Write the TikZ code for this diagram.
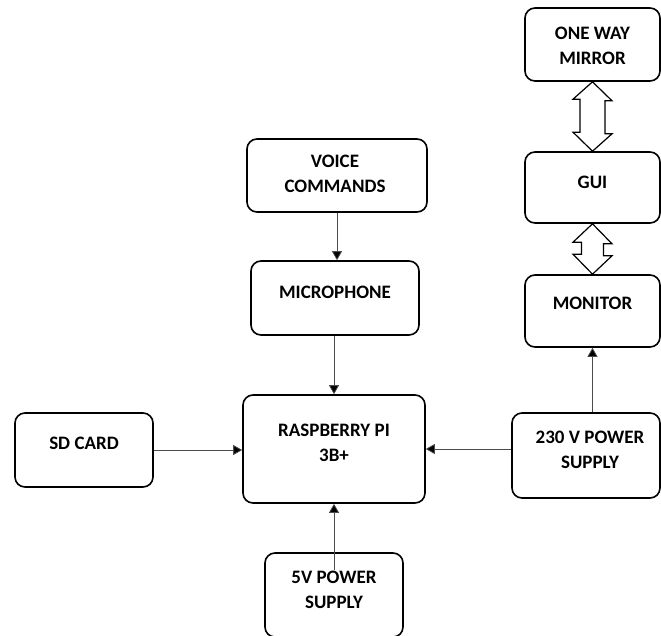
\documentclass[tikz,border=0pt]{standalone}
\usepackage{fontspec}
\setmainfont{Carlito}
\usetikzlibrary{arrows.meta,calc}
\begin{document}
\begin{tikzpicture}[x=1pt,y=-1pt,
  box/.style={draw=black,line width=1.6pt,rounded corners=10pt,inner sep=0pt,fill=white},
  lbl/.style={font=\fontsize{19}{25}\selectfont\bfseries,align=center,inner sep=0pt,text=black},
  conn/.style={draw=black!70,line width=0.8pt,-{Triangle[length=9pt,width=10pt,fill=black]}},
  hollow/.style={draw=black,line width=1.2pt,fill=white,line join=miter}]
\useasboundingbox (0,0) rectangle (661,635);
% boxes
\node[box,minimum width=135,minimum height=73] (mirror) at (592.5,44.5) {};
\node[box,minimum width=135,minimum height=71] (gui) at (592.5,187.5) {};
\node[box,minimum width=135,minimum height=72] (mon) at (592.5,311) {};
\node[box,minimum width=180,minimum height=73] (voice) at (337,175.5) {};
\node[box,minimum width=168,minimum height=74] (mic) at (335,298) {};
\node[box,minimum width=182,minimum height=108] (rpi) at (334,449) {};
\node[box,minimum width=138,minimum height=74] (sd) at (84,450) {};
\node[box,minimum width=148,minimum height=85] (p230) at (586,455.5) {};
\node[box,minimum width=138,minimum height=84] (p5) at (334,595) {};
% labels
\node[lbl] (mirror-t) at (592.5,45.5) {ONE WAY\\MIRROR};
\node[lbl] (gui-t) at (592.5,182) {GUI};
\node[lbl] (mon-t) at (592.5,303) {MONITOR};
\node[lbl] (voice-t) at (335,173.5) {VOICE\\COMMANDS};
\node[lbl] (mic-t) at (335,292) {MICROPHONE};
\node[lbl] (rpi-t) at (334,442.5) {RASPBERRY PI\\3B+};
\node[lbl] (sd-t) at (84,443) {SD CARD};
\node[lbl] (p230-t) at (590,450) {230 V POWER\\SUPPLY};
\node[lbl] (p5-t) at (334,589.5) {5V POWER\\SUPPLY};
% connectors
\draw[conn] (voice.south) -- (voice.south |- mic.north);
\draw[conn] (mic.south -| rpi.north) -- (rpi.north);
\draw[conn] (sd.east) -- (sd.east -| rpi.west);
\draw[conn] (p230.west |- rpi.center) -- (rpi.east);
\draw[conn] (p230.north -| mon.south) -- (mon.south);
\coordinate (p5in) at (334,570);
\draw[conn] (p5in) -- (rpi.south);
% hollow double arrows
\draw[hollow] (mirror.south) -- ++(19.5,19) -- ++(-7,0) -- ++(0,33) -- ++(7,0) -- (gui.north)
  -- ++(-19.5,-19) -- ++(7,0) -- ++(0,-33) -- ++(-7,0) -- cycle;
\draw[hollow] (gui.south) -- ++(19.5,20) -- ++(-8.5,0) -- ++(0,12) -- ++(8.5,0) -- (mon.north)
  -- ++(-19.5,-20) -- ++(8.5,0) -- ++(0,-12) -- ++(-8.5,0) -- cycle;
\end{tikzpicture}
\end{document}
